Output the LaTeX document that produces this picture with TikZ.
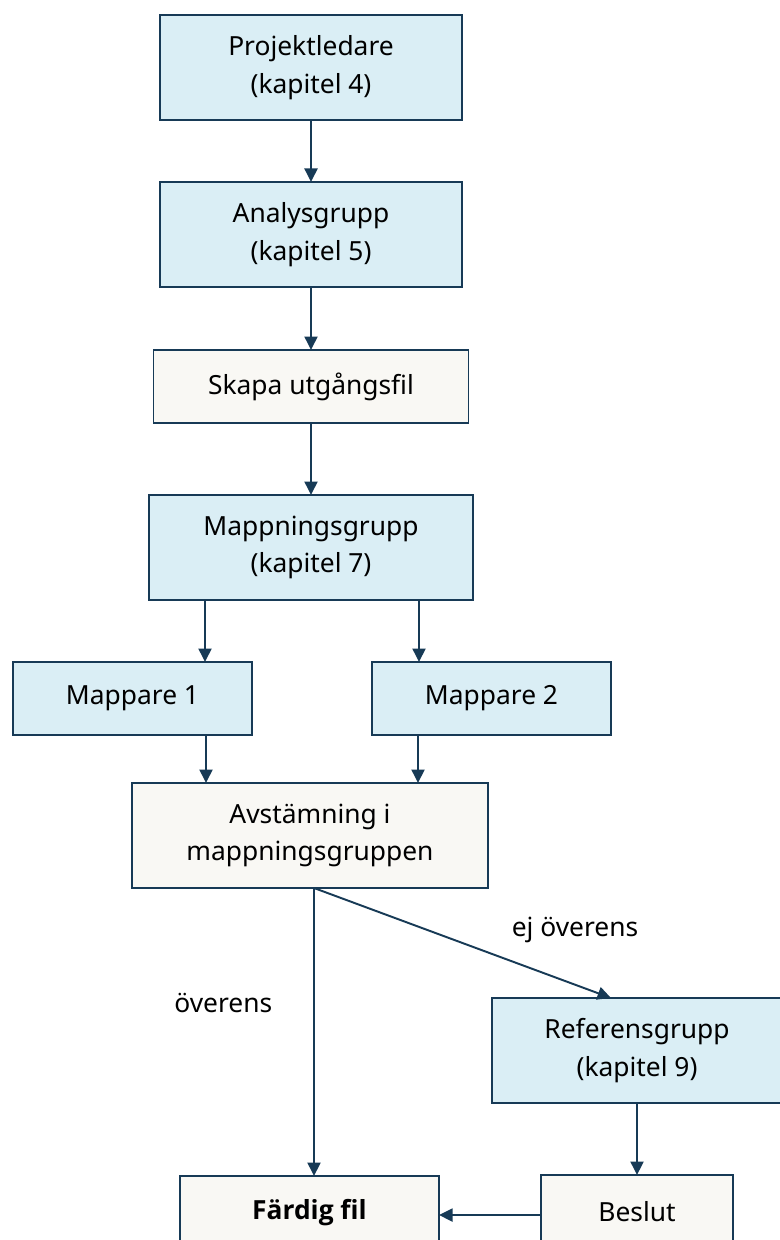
\documentclass[tikz,border=0pt]{standalone}
\usepackage{fontspec}
\setmainfont{Noto Sans}
\newfontfamily\heavyfont{Open Sans}
\usepackage{xcolor}
\usetikzlibrary{arrows.meta,positioning}

\definecolor{boxblue}{HTML}{DAEEF5}
\definecolor{boxwhite}{HTML}{F9F8F4}
\definecolor{navy}{HTML}{173A56}

\begin{document}
\begin{tikzpicture}[
    node distance=1.24cm,
    font=\fontsize{15}{21.5}\selectfont,
    group/.style={rectangle, draw=navy, line width=1.1pt, outer sep=0pt, fill=boxblue, align=center, minimum width=6.04cm, minimum height=2.1cm},
    task/.style={rectangle, draw=navy, line width=1.1pt, outer sep=0pt, fill=boxwhite, align=center, minimum height=1.46cm},
    arrow/.style={draw=navy, line width=1.1pt, -{Triangle[length=0.27cm,width=0.26cm]}}
]
\clip (0,0) rectangle (15.6,-24.8);
\useasboundingbox (0,0) rectangle (15.6,-24.8);

% Main column
\node[group] (proj) at (6.22,-1.35) {Projektledare\\(kapitel 4)};
\node[group, below=of proj] (anal) {Analysgrupp\\(kapitel 5)};
\node[task, minimum width=6.3cm, below=1.26cm of anal] (skapa) {Skapa utgångsfil};
\node[group, minimum width=6.48cm, below=1.44cm of skapa] (mapg) {Mappningsgrupp\\(kapitel 7)};

% Mappers
\node[group, minimum width=4.78cm, minimum height=1.46cm, below=of mapg, xshift=-3.57cm] (map1) {Mappare 1};
\node[group, minimum width=4.78cm, minimum height=1.46cm, below=of mapg, xshift=3.61cm] (map2) {Mappare 2};

\node[task, minimum width=7.12cm, minimum height=2.1cm, below=0.96cm of map1, xshift=3.55cm] (avst) {Avstämning i\\mappningsgruppen};

% Outcome
\node[group, minimum width=5.8cm, below=2.2cm of avst, xshift=6.54cm] (ref) {Referensgrupp\\(kapitel 9)};
\node[task, minimum width=3.84cm, below=1.44cm of ref] (beslut) {Beslut};
\node[task, minimum width=5.18cm, below=5.76cm of avst, xshift=-0.01cm] (faerdig) {{\heavyfont\bfseries Färdig fil}};

% Arrows
\draw[arrow] (proj) -- (anal);
\draw[arrow] (anal) -- (skapa);
\draw[arrow] (skapa) -- (mapg);
\draw[arrow] ([xshift=1.12cm]mapg.south west) coordinate (m1top) -- (m1top |- map1.north);
\draw[arrow] ([xshift=-1.08cm]mapg.south east) coordinate (m2top) -- (m2top |- map2.north);
\coordinate (a1) at ([xshift=1.48cm]avst.north west);
\coordinate (a2) at ([xshift=-1.4cm]avst.north east);
\draw[arrow] (map1.south -| a1) -- (a1);
\draw[arrow] (map2.south -| a2) -- (a2);
\draw[arrow] ([xshift=0.08cm]avst.south) coordinate (avbot) -- (avbot |- faerdig.north)
    node[pos=0.4, left=0.7cm] (lblok) {överens};
\draw[arrow] (avbot) -- ([xshift=2.38cm]ref.north west);
\node (lblnot) at (11.5,-18.6) {ej överens};
\draw[arrow] (ref) -- (beslut);
\draw[arrow] ([yshift=-0.07cm]beslut.west) coordinate (bw) -- (bw -| faerdig.east);

\end{tikzpicture}
\end{document}
